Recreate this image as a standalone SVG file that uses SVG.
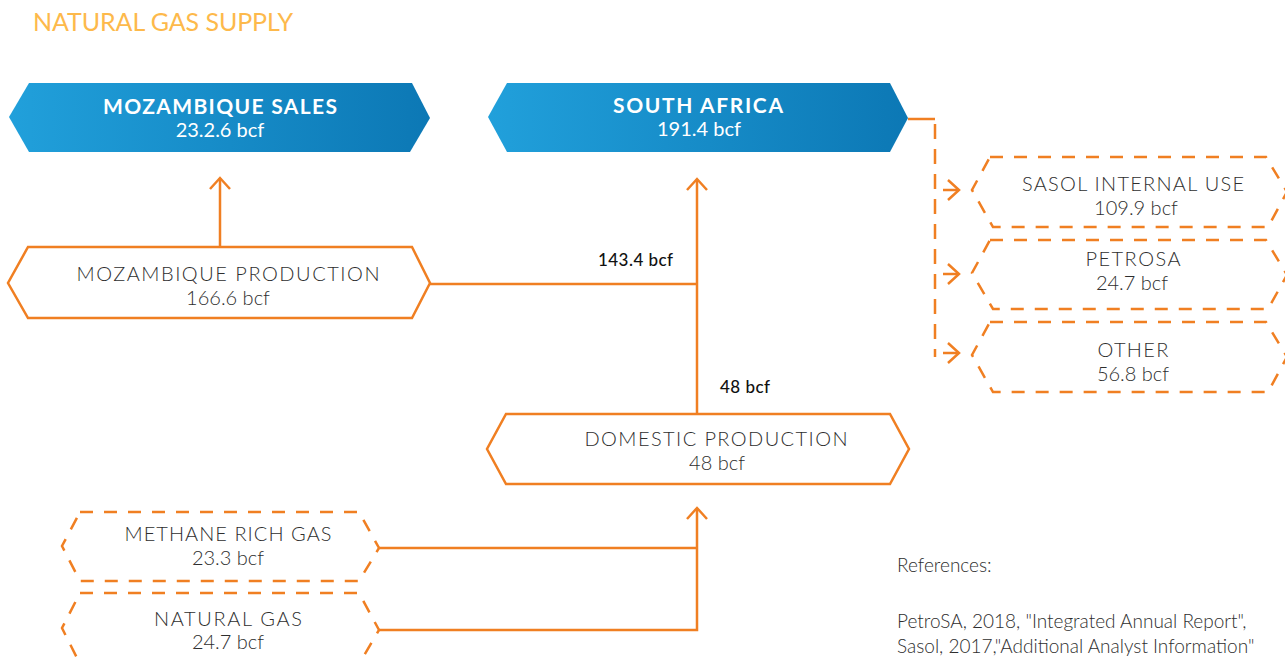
<svg xmlns="http://www.w3.org/2000/svg" width="1285" height="661" viewBox="0 0 1285 661">
<defs>
<linearGradient id="blue" x1="0" y1="0" x2="1" y2="0">
<stop offset="0" stop-color="#21A0DB"/>
<stop offset="1" stop-color="#0C78B5"/>
</linearGradient>
<marker id="head" markerWidth="24" markerHeight="24" refX="12" refY="12" orient="auto" markerUnits="userSpaceOnUse">
<path d="M1,2 L12,12 L1,22" fill="none" stroke="#F07F22" stroke-width="2.5"/>
</marker>
</defs>
<style>
.t{font-family:Lato,"Open Sans","Liberation Sans",sans-serif;font-weight:300;fill:#2e2e2e;font-size:20px;text-anchor:middle}
.w{font-family:Lato,"Open Sans","Liberation Sans",sans-serif;fill:#ffffff;font-size:20px;text-anchor:middle}
.b{font-weight:700;font-size:21px}
.lbl{font-family:Lato,"Open Sans","Liberation Sans",sans-serif;font-weight:500;fill:#111;font-size:17px}
.solid{fill:#fff;stroke:#F07F22;stroke-width:2.5}
.dash{fill:none;stroke:#F07F22;stroke-width:2.5;stroke-dasharray:13 11}
.ln{fill:none;stroke:#F07F22;stroke-width:2.5}
.ref{font-family:Lato,"Open Sans","Liberation Sans",sans-serif;font-weight:300;fill:#2e2e2e;font-size:19px}
</style>
<rect width="1285" height="661" fill="#fff"/>
<text x="33" y="31" font-family="Lato,'Open Sans','Liberation Sans',sans-serif" font-weight="400" font-size="25" fill="#FDB94B" textLength="260">NATURAL GAS SUPPLY</text>

<g id="connectors">
<path class="ln" d="M220,247 V178" marker-end="url(#head)"/>
<path class="ln" d="M430,284 H697"/>
<path class="ln" d="M697,414 V179" marker-end="url(#head)"/>
<path class="ln" d="M379,548 H697"/>
<path class="ln" d="M379,630 H697 V508" marker-end="url(#head)"/>
<path class="ln" d="M908,119 H935" />
<path class="ln" d="M935,124 V357" stroke-dasharray="15 10"/>
<path class="ln" d="M943,190 H959" marker-end="url(#head)"/>
<path class="ln" d="M943,274 H959" marker-end="url(#head)"/>
<path class="ln" d="M943,353 H959" marker-end="url(#head)"/>
<text class="lbl" x="598" y="266" textLength="75">143.4 bcf</text>
<text class="lbl" x="720" y="393" textLength="50">48 bcf</text>
</g>

<g id="mozambique-sales">
<polygon points="29,83 412,83 430,118 410,152 29,152 9,117" fill="url(#blue)"/>
<text class="w b" x="220" y="114" textLength="234">MOZAMBIQUE SALES</text>
<text class="w" x="220" y="137">23.2.6 bcf</text>
</g>

<g id="south-africa">
<polygon points="507,83 890,83 908,118 890,152 507,152 488,117" fill="url(#blue)"/>
<text class="w b" x="698" y="113" textLength="170">SOUTH AFRICA</text>
<text class="w" x="699" y="136">191.4 bcf</text>
</g>

<g id="mozambique-production">
<polygon class="solid" points="28,247 412,247 430,283 412,318 28,318 8,283"/>
<text class="t" x="228" y="281" textLength="303">MOZAMBIQUE PRODUCTION</text>
<text class="t" x="228" y="305">166.6 bcf</text>
</g>

<g id="domestic-production">
<polygon class="solid" points="506,414 890,414 909,449 890,484 506,484 487,449"/>
<text class="t" x="716" y="446" textLength="263">DOMESTIC PRODUCTION</text>
<text class="t" x="717" y="470">48 bcf</text>
</g>

<g id="sasol">
<polygon class="dash" points="990,157 1266,157 1287,192 1268,227 993,227 972,190"/>
<text class="t" x="1133" y="191" textLength="222">SASOL INTERNAL USE</text>
<text class="t" x="1136" y="215">109.9 bcf</text>
</g>

<g id="petrosa">
<polygon class="dash" points="990,240 1266,240 1287,275 1268,309 993,309 972,273"/>
<text class="t" x="1133" y="266" textLength="95">PETROSA</text>
<text class="t" x="1132" y="290">24.7 bcf</text>
</g>

<g id="other">
<polygon class="dash" points="990,322 1266,322 1287,357 1268,392 993,392 972,355"/>
<text class="t" x="1133" y="357" textLength="71">OTHER</text>
<text class="t" x="1133" y="381">56.8 bcf</text>
</g>

<g id="methane-rich-gas">
<polygon class="dash" points="80,512 359,512 379,548 359,581 80,581 62,546"/>
<text class="t" x="228" y="541" textLength="207">METHANE RICH GAS</text>
<text class="t" x="228" y="565">23.3 bcf</text>
</g>

<g id="natural-gas">
<polygon class="dash" points="80,593 359,593 379,630 359,664 80,664 62,628"/>
<text class="t" x="228" y="626" textLength="148">NATURAL GAS</text>
<text class="t" x="228" y="649">24.7 bcf</text>
</g>

<g id="references">
<text class="ref" x="897" y="572">References:</text>
<text class="ref" x="897" y="628">PetroSA, 2018, "Integrated Annual Report",</text>
<text class="ref" x="897" y="653">Sasol, 2017,"Additional Analyst Information"</text>
</g>
</svg>
